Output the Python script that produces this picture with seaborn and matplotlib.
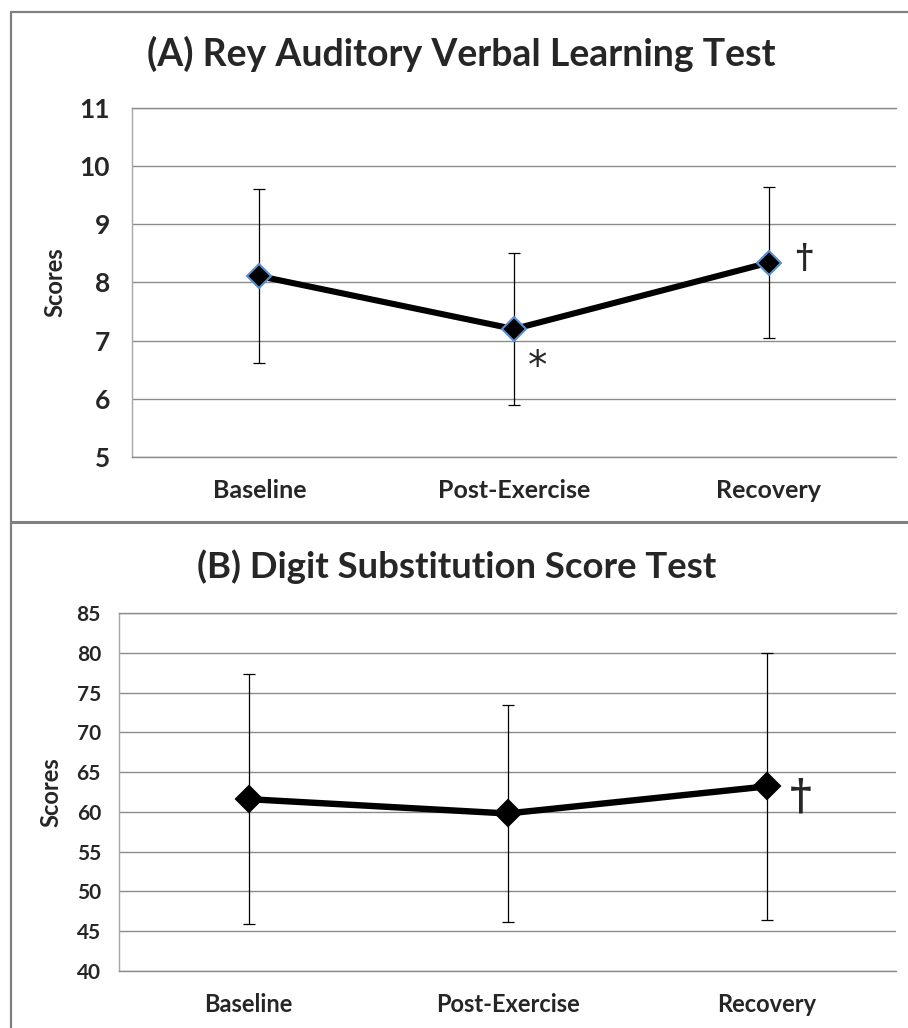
import matplotlib
matplotlib.use("Agg")
import matplotlib.pyplot as plt
from matplotlib.lines import Line2D
import seaborn as sns
import pandas as pd
import numpy as np

# ---- data ----
categories = ["Baseline", "Post-Exercise", "Recovery"]

ravlt_means = [8.11, 7.20, 8.34]
ravlt_err = [1.49, 1.30, 1.30]
ravlt_ticks = [5, 6, 7, 8, 9, 10, 11]

dsst_means = [61.6, 59.8, 63.2]
dsst_err = [15.7, 13.6, 16.8]
dsst_ticks = [40, 45, 50, 55, 60, 65, 70, 75, 80, 85]

title_a = "(A) Rey Auditory Verbal Learning Test"
title_b = "(B) Digit Substitution Score Test"
ylabel = "Scores"

sns.set_theme(style="white")
plt.rcParams["font.family"] = ["Lato", "DejaVu Sans"]

W, H = 908, 1028
fig = plt.figure(figsize=(W / 100, H / 100), dpi=100)


def px_axes(left, top, right, bottom):
    return fig.add_axes([left / W, 1 - bottom / H, (right - left) / W, (bottom - top) / H])


ax_a = px_axes(132, 108, 896, 457)
ax_b = px_axes(119, 613, 896, 971)

grid_col = "#8c8c8c"


def draw_panel(ax, means, errs, ticks, edgecolor, mk, lw, tick_fs, xlab_fs, ypad, xpad, ylab_x):
    df = pd.DataFrame({"cond": categories, "score": means})
    ax.errorbar(np.arange(len(categories)), means, yerr=errs, fmt="none",
                ecolor="black", elinewidth=0.9, capsize=4, capthick=0.9, zorder=2)
    sns.pointplot(data=df, x="cond", y="score", order=categories, ax=ax,
                  color="black", markers="D", errorbar=None,
                  markersize=mk, linewidth=lw,
                  markeredgecolor=edgecolor, markeredgewidth=1.5, zorder=4)
    ax.set_ylim(ticks[0], ticks[-1])
    ax.set_yticks(ticks)
    ax.set_xlim(-0.5, len(categories) - 0.5)
    ax.yaxis.grid(True, color=grid_col, lw=1.0, zorder=0)
    ax.set_axisbelow(True)
    ax.spines["right"].set_visible(False)
    ax.spines["top"].set_color(grid_col)
    ax.spines["bottom"].set_color(grid_col)
    ax.spines["left"].set_color("#a6a6a6")
    for s in ["top", "bottom", "left"]:
        ax.spines[s].set_linewidth(1.0)
    ax.tick_params(axis="both", length=0)
    ax.tick_params(axis="y", pad=ypad, labelsize=tick_fs)
    ax.tick_params(axis="x", pad=xpad, labelsize=xlab_fs)
    for t in ax.get_yticklabels() + ax.get_xticklabels():
        t.set_fontweight("bold")
    ax.set_xlabel("")
    ax.set_ylabel(ylabel, fontsize=17, fontweight="bold")
    ax.yaxis.set_label_coords(ylab_x, 0.5)


draw_panel(ax_a, ravlt_means, ravlt_err, ravlt_ticks, "#5b8fd0", 12.5, 4.4, 19, 18, 16, 16, -0.086)
draw_panel(ax_b, dsst_means, dsst_err, dsst_ticks, "black", 13.5, 4.6, 15, 17, 13, 16, -0.073)

# significance marks
ax_a.annotate("*", xy=(1, ravlt_means[1]), xytext=(24, -38), textcoords="offset pixels",
              ha="center", va="center", fontsize=28, family="DejaVu Sans")
ax_a.annotate("\u2020", xy=(2, ravlt_means[2]), xytext=(35, 4), textcoords="offset pixels",
              ha="center", va="center", fontsize=24, fontweight="bold", family="DejaVu Serif")
ax_b.annotate("\u2020", xy=(2, dsst_means[2]), xytext=(34, -10), textcoords="offset pixels",
              ha="center", va="center", fontsize=30, fontweight="bold", family="DejaVu Serif")

# titles
fig.text(461 / W, 1 - 54 / H, title_a, ha="center", va="center", fontsize=27, fontweight="bold")
fig.text(457 / W, 1 - 567 / H, title_b, ha="center", va="center", fontsize=26.3, fontweight="bold")

# panel borders
bcol = "#808080"
fig.add_artist(Line2D([11 / W, 11 / W], [0, 1 - 12 / H], color=bcol, lw=1.6))
fig.add_artist(Line2D([11 / W, 1], [1 - 12 / H, 1 - 12 / H], color=bcol, lw=1.6))
fig.add_artist(Line2D([11 / W, 1], [1 - 522 / H, 1 - 522 / H], color=bcol, lw=2.2))

fig.savefig("out.png", dpi=100)
